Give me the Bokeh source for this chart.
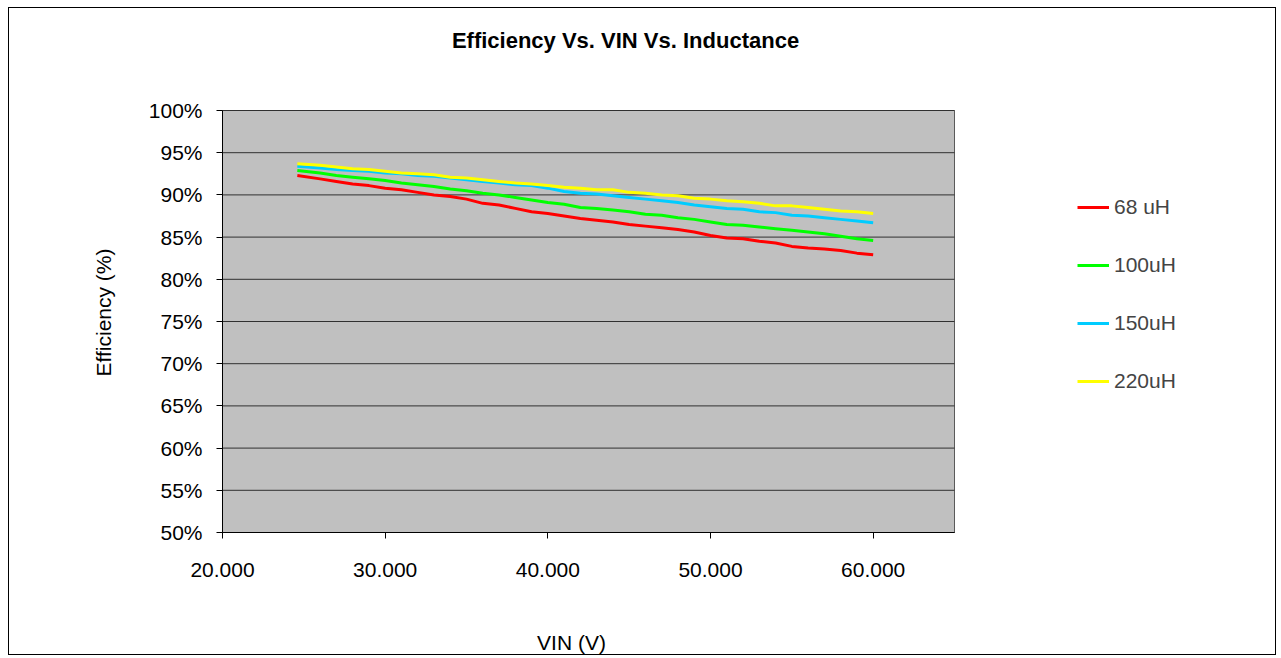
import math
from bokeh.plotting import figure
from bokeh.models import (FixedTicker, NumeralTickFormatter, PrintfTickFormatter,
                          Range1d, Legend, LegendItem, Label)
from bokeh.embed import file_html
from bokeh.resources import INLINE

# ---- data ----
vin = [24.6, 26, 27, 28, 29, 30, 31, 32, 33, 34, 35, 36, 37, 38, 39, 40, 41, 42,
       43, 44, 45, 46, 47, 48, 49, 50, 51, 52, 53, 54, 55, 56, 57, 58, 59, 60]

eff_68uH = [92.3, 91.9, 91.6, 91.3, 91.1, 90.8, 90.6, 90.3, 90.0, 89.8, 89.5, 89.0,
            88.8, 88.4, 88.0, 87.8, 87.5, 87.2, 87.0, 86.8, 86.5, 86.3, 86.1, 85.9,
            85.6, 85.2, 84.9, 84.8, 84.5, 84.3, 83.9, 83.7, 83.6, 83.4, 83.1, 82.9]
eff_100uH = [92.9, 92.6, 92.3, 92.1, 91.9, 91.7, 91.4, 91.2, 91.0, 90.7, 90.5, 90.2,
             90.0, 89.7, 89.4, 89.1, 88.9, 88.5, 88.4, 88.2, 88.0, 87.7, 87.6, 87.3,
             87.1, 86.8, 86.5, 86.4, 86.2, 86.0, 85.8, 85.6, 85.4, 85.1, 84.8, 84.6]
eff_150uH = [93.4, 93.2, 93.0, 92.9, 92.8, 92.6, 92.5, 92.3, 92.2, 92.0, 91.8, 91.6,
             91.4, 91.2, 91.1, 90.8, 90.4, 90.2, 90.1, 89.9, 89.7, 89.5, 89.3, 89.1,
             88.8, 88.6, 88.4, 88.3, 88.0, 87.9, 87.6, 87.5, 87.3, 87.1, 86.9, 86.7]
eff_220uH = [93.7, 93.5, 93.3, 93.1, 93.0, 92.8, 92.6, 92.5, 92.4, 92.1, 92.0, 91.8,
             91.6, 91.4, 91.3, 91.1, 90.9, 90.8, 90.6, 90.6, 90.3, 90.2, 90.0, 89.9,
             89.6, 89.5, 89.3, 89.2, 89.0, 88.7, 88.7, 88.5, 88.3, 88.1, 88.0, 87.8]

series_names = ["68 uH", "100uH", "150uH", "220uH"]
series_values = [eff_68uH, eff_100uH, eff_150uH, eff_220uH]
series_colors = ["#FF0000", "#00FF00", "#00CCFF", "#FFFF00"]

x_ticks = [20, 30, 40, 50, 60]
y_ticks = [50, 55, 60, 65, 70, 75, 80, 85, 90, 95, 100]
x_min, x_max = 20, 65      # axis limits of the grey plot area
y_min, y_max = 50, 100

title_text = "Efficiency Vs. VIN Vs. Inductance"
x_label = "VIN (V)"
y_label = "Efficiency (%)"

FONT = "Liberation Sans"

# ---- layout (pixels) ----
W, H = 1268, 648                 # canvas size (inside the 1px page border)
AREA_L, AREA_R = 213, 945        # grey area, canvas px
AREA_T, AREA_B = 102, 524
sx = (AREA_R - AREA_L) / (x_max - x_min)
sy = (AREA_B - AREA_T) / (y_max - y_min)
xr = Range1d(x_min - AREA_L / sx, x_max + (W - AREA_R) / sx)
yr = Range1d(y_min - (H - AREA_B) / sy, y_max + AREA_T / sy)

def px_to_x(px):   # canvas px -> data x
    return x_min + (px - AREA_L) / sx

def py_to_y(py):   # canvas px -> data y
    return y_min + (AREA_B - py) / sy

p = figure(width=W, height=H, output_backend="svg", toolbar_location=None,
           x_range=xr, y_range=yr, min_border=0,
           min_border_left=0, min_border_right=0, min_border_top=0,
           min_border_bottom=0)
p.title.visible = False
p.styles = {"border": "1px solid black", "margin-left": "8px", "margin-top": "7px"}

p.background_fill_color = "white"
p.border_fill_color = "white"
p.outline_line_color = None
p.xgrid.visible = False
p.ygrid.visible = False

# grey plot area
p.quad(left=[x_min], right=[x_max], bottom=[y_min], top=[y_max],
       fill_color="#C0C0C0", line_color="#5A5A5A", line_width=1)
# horizontal grid lines
p.segment(x0=[x_min] * len(y_ticks), x1=[x_max] * len(y_ticks),
          y0=y_ticks, y1=y_ticks, line_color="#303030", line_width=1)

# axes fixed to the grey area
p.xaxis.fixed_location = y_min
p.xaxis.bounds = (x_min, x_max)
p.yaxis.fixed_location = x_min
p.yaxis.bounds = (y_min, y_max)
p.xaxis.ticker = FixedTicker(ticks=x_ticks)
p.xaxis.formatter = NumeralTickFormatter(format="0.000")
p.yaxis.ticker = FixedTicker(ticks=y_ticks)
p.yaxis.formatter = PrintfTickFormatter(format="%d%%")

for ax in (p.xaxis[0], p.yaxis[0]):
    ax.axis_line_color = "black"
    ax.major_tick_line_color = "black"
    ax.major_tick_out = 6
    ax.major_tick_in = 0
    ax.minor_tick_line_color = None
    ax.major_label_text_font = FONT
    ax.major_label_text_font_size = "21px"
    ax.major_label_text_color = "black"

p.xaxis.major_label_standoff = 24
p.yaxis.major_label_standoff = 14

items = []
for name, vals, col in zip(series_names, series_values, series_colors):
    r = p.line(vin, vals, line_color=col, line_width=3)
    items.append(LegendItem(label=name, renderers=[r]))

legend = Legend(items=items, location=(1068, 263), orientation="vertical",
                glyph_width=32, glyph_height=20, label_height=20, spacing=34,
                label_standoff=5, padding=0, margin=0,
                label_text_font=FONT, label_text_font_size="21px",
                border_line_color=None, background_fill_alpha=0)
p.add_layout(legend)

p.add_layout(Label(x=px_to_x(616), y=py_to_y(32), text=title_text,
                   text_align="center", text_baseline="middle", text_font=FONT,
                   text_font_size="22px", text_font_style="bold", text_color="black"))
p.add_layout(Label(x=px_to_x(562), y=py_to_y(634), text=x_label,
                   text_align="center", text_baseline="middle", text_font=FONT,
                   text_font_size="21px", text_color="black"))
p.add_layout(Label(x=px_to_x(94), y=py_to_y(304), text=y_label, angle=math.pi / 2,
                   text_align="center", text_baseline="middle", text_font=FONT,
                   text_font_size="21px", text_color="black"))

open("out.html", "w").write(file_html(p, INLINE))
